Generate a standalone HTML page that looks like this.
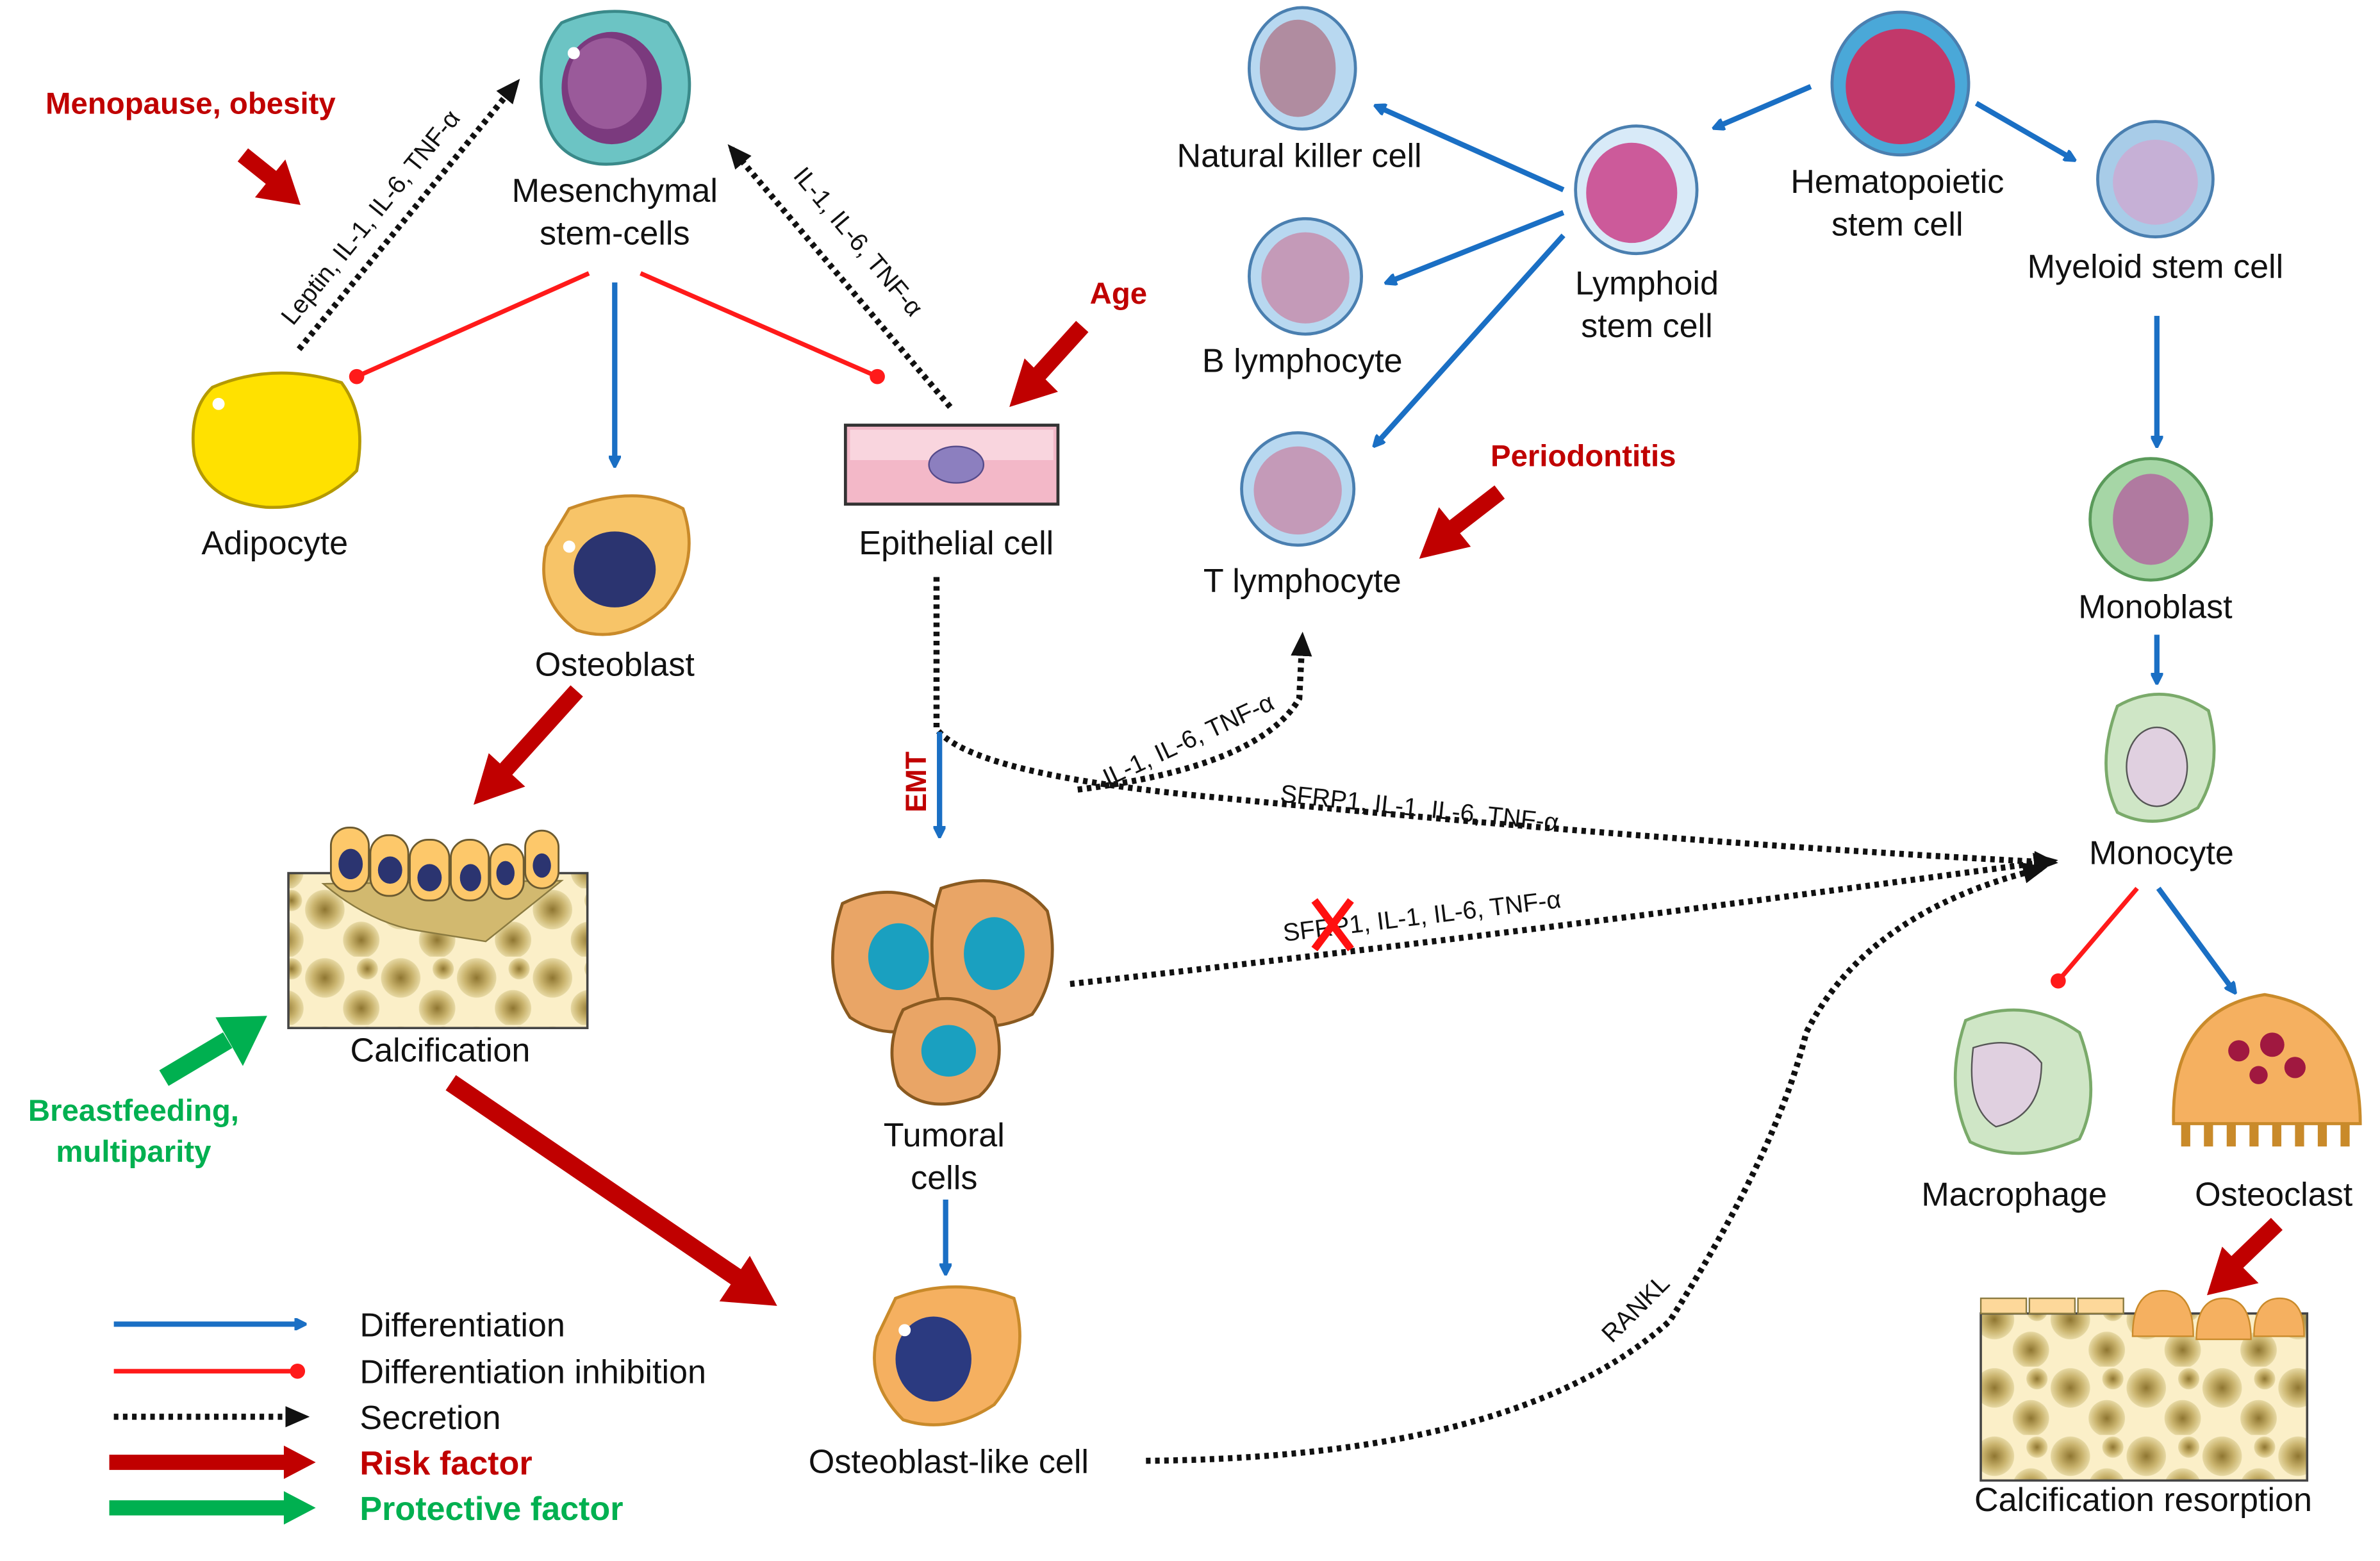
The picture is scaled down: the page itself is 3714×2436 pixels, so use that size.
<!DOCTYPE html>
<html><head><meta charset="utf-8">
<style>
html,body{margin:0;padding:0;background:#fff;}
svg{display:block;}
text{font-family:"Liberation Sans",Arial,sans-serif;}
.lb{font-size:22px;fill:#111;text-anchor:middle;}
.sm{font-size:16.5px;fill:#111;}
.red{fill:#c00000;font-weight:bold;font-size:20px;}
.grn{fill:#00b050;font-weight:bold;font-size:20px;}
.dot{stroke:#111;stroke-width:4;stroke-dasharray:3 3;fill:none;}
.blu{stroke:#1a6fc4;stroke-width:3.5;fill:none;}
.rl{stroke:#ff1a1a;stroke-width:3;fill:none;}
</style></head>
<body>
<svg width="3714" height="2436" viewBox="0 0 1568 1028" preserveAspectRatio="none" xmlns="http://www.w3.org/2000/svg">
<defs>
<marker id="ab" markerWidth="8" markerHeight="8" refX="6" refY="4" orient="auto" markerUnits="userSpaceOnUse"><path d="M0,0 L8,4 L0,8 Z" fill="#1a6fc4" transform="scale(1.6) translate(-2,-1.5)"/></marker>
<marker id="ak" markerWidth="16" markerHeight="14" refX="12" refY="7" orient="auto" markerUnits="userSpaceOnUse"><path d="M0,0 L16,7 L0,14 Z" fill="#111"/></marker>
<marker id="ar" markerWidth="14" markerHeight="14" refX="7" refY="7" markerUnits="userSpaceOnUse"><circle cx="7" cy="7" r="5" fill="#ff1a1a"/></marker>
<radialGradient id="bone" cx="50%" cy="50%" r="50%"><stop offset="0" stop-color="#8f7631"/><stop offset="0.6" stop-color="#c9b36d"/><stop offset="1" stop-color="#e7d9a4"/></radialGradient>
<pattern id="bp" width="50" height="45" patternUnits="userSpaceOnUse">
<rect width="50" height="45" fill="#fbefc8"/>
<circle cx="14" cy="14" r="13" fill="url(#bone)"/><circle cx="38" cy="34" r="12" fill="url(#bone)"/><circle cx="42" cy="8" r="7" fill="url(#bone)"/>
</pattern>
</defs>

<text x="30" y="75" class="red">Menopause,  obesity</text>
<line x1="160" y1="102" x2="180" y2="118" stroke="#c00000" stroke-width="11"/>
<path d="M168,130 L198,135 L188,105 Z" fill="#c00000"/>

<path d="M370,15 Q405,0 440,15 Q462,45 450,80 Q430,110 395,108 Q362,104 358,70 Q352,35 370,15 Z" fill="#6cc4c4" stroke="#3a8a8a" stroke-width="2"/>
<ellipse cx="403" cy="58" rx="33" ry="37" fill="#7b3a7e"/>
<ellipse cx="400" cy="55" rx="26" ry="30" fill="#9a5a9a"/>
<circle cx="378" cy="35" r="4" fill="#fff"/>
<text x="405" y="133" class="lb">Mesenchymal</text>
<text x="405" y="161" class="lb">stem-cells</text>

<line x1="197" y1="230" x2="340" y2="55" class="dot" marker-end="url(#ak)"/>
<text class="sm" transform="translate(193,215) rotate(-51)">Leptin, IL-1, IL-6, TNF-α</text>
<line x1="626" y1="268" x2="482" y2="98" class="dot" marker-end="url(#ak)"/>
<text class="sm" transform="translate(522,116) rotate(50)">IL-1, IL-6, TNF-α</text>

<line x1="388" y1="180" x2="235" y2="248" class="rl" marker-end="url(#ar)"/>
<line x1="422" y1="180" x2="578" y2="248" class="rl" marker-end="url(#ar)"/>
<line x1="405" y1="186" x2="405" y2="306" class="blu" marker-end="url(#ab)"/>

<path d="M140,255 Q180,238 225,252 Q242,275 235,310 Q210,336 175,334 Q135,330 128,300 Q124,270 140,255 Z" fill="#ffe100" stroke="#b59a00" stroke-width="2"/>
<circle cx="144" cy="266" r="4" fill="#fff"/>
<text x="181" y="365" class="lb">Adipocyte</text>

<path d="M375,335 Q420,318 450,335 Q462,370 438,400 Q410,425 380,415 Q352,395 360,360 Z" fill="#f7c468" stroke="#c98a2a" stroke-width="2"/>
<ellipse cx="405" cy="375" rx="27" ry="25" fill="#2b3470"/>
<circle cx="375" cy="360" r="4" fill="#fff"/>
<text x="405" y="445" class="lb">Osteoblast</text>

<rect x="557" y="280" width="140" height="52" fill="#f3b8c8" stroke="#333" stroke-width="2"/>
<rect x="560" y="283" width="134" height="20" fill="#f9d5de"/>
<ellipse cx="630" cy="306" rx="18" ry="12" fill="#8c7fbf" stroke="#554a8a"/>
<text x="630" y="365" class="lb">Epithelial cell</text>
<text x="718" y="200" class="red">Age</text>
<line x1="713" y1="215" x2="684" y2="247" stroke="#c00000" stroke-width="11"/>
<path d="M665,268 L697,258 L675,236 Z" fill="#c00000"/>

<line x1="380" y1="455" x2="333" y2="507" stroke="#c00000" stroke-width="11"/>
<path d="M312,530 L346,518 L322,496 Z" fill="#c00000"/>

<rect x="190" y="575" width="197" height="102" fill="url(#bp)" stroke="#444" stroke-width="1.5"/>
<path d="M213,582 Q240,605 270,612 L320,620 Q345,600 370,580 Z" fill="#d2b96f" stroke="#8a7a40"/>
<g fill="#fdc86a" stroke="#6b5a30" stroke-width="1.2">
<rect x="218" y="545" width="25" height="42" rx="12"/>
<rect x="244" y="550" width="25" height="40" rx="12"/>
<rect x="270" y="553" width="26" height="40" rx="12"/>
<rect x="297" y="553" width="25" height="40" rx="12"/>
<rect x="323" y="556" width="22" height="36" rx="11"/>
<rect x="346" y="547" width="22" height="38" rx="11"/>
</g>
<g fill="#2b3470">
<ellipse cx="231" cy="569" rx="8" ry="10"/><ellipse cx="257" cy="573" rx="8" ry="9"/><ellipse cx="283" cy="578" rx="8" ry="9"/><ellipse cx="310" cy="578" rx="7" ry="9"/><ellipse cx="333" cy="575" rx="6" ry="8"/><ellipse cx="357" cy="570" rx="6" ry="8"/>
</g>
<text x="290" y="699" class="lb">Calcification</text>

<line x1="108" y1="710" x2="150" y2="685" stroke="#00b050" stroke-width="12"/>
<path d="M176,669 L142,670 L160,702 Z" fill="#00b050"/>
<text x="88" y="738" class="grn" text-anchor="middle">Breastfeeding,</text>
<text x="88" y="765" class="grn" text-anchor="middle">multiparity</text>

<line x1="297" y1="713" x2="488" y2="843" stroke="#c00000" stroke-width="12"/>
<path d="M512,860 L474,857 L494,827 Z" fill="#c00000"/>

<line x1="75" y1="872" x2="200" y2="872" class="blu" marker-end="url(#ab)"/>
<line x1="75" y1="903" x2="196" y2="903" class="rl" marker-end="url(#ar)"/>
<line x1="75" y1="933" x2="200" y2="933" class="dot" marker-end="url(#ak)"/>
<line x1="72" y1="963" x2="190" y2="963" stroke="#c00000" stroke-width="10"/>
<path d="M187,952 L208,963 L187,974 Z" fill="#c00000"/>
<line x1="72" y1="993" x2="190" y2="993" stroke="#00b050" stroke-width="10"/>
<path d="M187,982 L208,993 L187,1004 Z" fill="#00b050"/>
<text x="237" y="880" class="lb" style="text-anchor:start">Differentiation</text>
<text x="237" y="911" class="lb" style="text-anchor:start">Differentiation inhibition</text>
<text x="237" y="941" class="lb" style="text-anchor:start">Secretion</text>
<text x="237" y="971" class="red" style="font-size:22px">Risk factor</text>
<text x="237" y="1001" class="grn" style="font-size:22px">Protective factor</text>

<path d="M617,380 L617,480 Q640,510 800,525 Q1100,555 1352,568" class="dot" marker-end="url(#ak)"/>
<line x1="619" y1="482" x2="619" y2="550" class="blu" marker-end="url(#ab)"/>
<text transform="translate(610,535) rotate(-90)" class="red" style="font-size:19px">EMT</text>
<path d="M710,520 Q830,505 856,460 L858,420" class="dot" marker-end="url(#ak)"/>
<text class="sm" transform="translate(730,518) rotate(-25)">IL-1, IL-6, TNF-α</text>
<text class="sm" transform="translate(843,528) rotate(6)">SFRP1, IL-1, IL-6, TNF-α</text>

<g stroke="#8a5a20" stroke-width="2" fill="#e9a566">
<path d="M555,595 Q590,578 620,600 Q640,630 625,668 Q590,690 560,670 Q540,640 555,595 Z"/>
<path d="M620,585 Q665,570 690,600 Q700,640 680,668 Q645,685 620,665 Q608,620 620,585 Z"/>
<path d="M595,665 Q630,648 655,670 Q665,705 645,722 Q610,735 592,715 Q582,690 595,665 Z"/>
</g>
<g fill="#1aa0c0"><ellipse cx="592" cy="630" rx="20" ry="22"/><ellipse cx="655" cy="628" rx="20" ry="24"/><ellipse cx="625" cy="692" rx="18" ry="17"/></g>
<text x="622" y="755" class="lb">Tumoral</text>
<text x="622" y="783" class="lb">cells</text>
<path d="M705,648 Q1000,615 1352,567" class="dot" marker-end="url(#ak)"/>
<text class="sm" transform="translate(846,620) rotate(-7)">SFRP1, IL-1, IL-6, TNF-α</text>
<g stroke="#ff1010" stroke-width="5"><line x1="866" y1="593" x2="890" y2="625"/><line x1="890" y1="593" x2="866" y2="625"/></g>
<line x1="623" y1="790" x2="623" y2="838" class="blu" marker-end="url(#ab)"/>

<path d="M590,855 Q630,840 668,855 Q680,895 655,925 Q625,945 595,935 Q570,910 578,880 Z" fill="#f5b060" stroke="#c98a2a" stroke-width="2"/>
<ellipse cx="615" cy="895" rx="25" ry="28" fill="#2b3a80"/>
<circle cx="596" cy="876" r="4" fill="#fff"/>
<text x="625" y="970" class="lb">Osteoblast-like cell</text>
<path d="M755,962 Q1000,960 1100,870 Q1170,760 1190,680 Q1230,600 1345,572" class="dot" marker-end="url(#ak)"/>
<text class="sm" transform="translate(1062,885) rotate(-45)">RANKL</text>

<g stroke="#4a7fb0" stroke-width="2">
<ellipse cx="858" cy="45" rx="35" ry="40" fill="#b8d8f0"/>
<ellipse cx="860" cy="182" rx="37" ry="38" fill="#b8d8f0"/>
<ellipse cx="855" cy="322" rx="37" ry="37" fill="#b8d8f0"/>
<ellipse cx="1078" cy="125" rx="40" ry="42" fill="#d8eaf8"/>
<ellipse cx="1252" cy="55" rx="45" ry="47" fill="#4aa8d8"/>
<ellipse cx="1420" cy="118" rx="38" ry="38" fill="#a8cce8"/>
</g>
<ellipse cx="855" cy="45" rx="25" ry="32" fill="#b08ca0"/>
<ellipse cx="860" cy="183" rx="29" ry="30" fill="#c49ab8"/>
<ellipse cx="855" cy="323" rx="29" ry="29" fill="#c49ab8"/>
<ellipse cx="1075" cy="127" rx="30" ry="33" fill="#cc5a9a"/>
<ellipse cx="1252" cy="57" rx="36" ry="38" fill="#c2386a"/>
<ellipse cx="1420" cy="120" rx="28" ry="28" fill="#c6b0d6"/>
<text x="856" y="110" class="lb">Natural killer cell</text>
<text x="858" y="245" class="lb">B lymphocyte</text>
<text x="858" y="390" class="lb">T lymphocyte</text>
<text x="1085" y="194" class="lb">Lymphoid</text>
<text x="1085" y="222" class="lb">stem cell</text>
<text x="1250" y="127" class="lb">Hematopoietic</text>
<text x="1250" y="155" class="lb">stem cell</text>
<text x="1420" y="183" class="lb">Myeloid stem cell</text>
<line x1="1030" y1="125" x2="907" y2="70" class="blu" marker-end="url(#ab)"/>
<line x1="1030" y1="140" x2="914" y2="186" class="blu" marker-end="url(#ab)"/>
<line x1="1030" y1="155" x2="906" y2="293" class="blu" marker-end="url(#ab)"/>
<line x1="1193" y1="57" x2="1130" y2="84" class="blu" marker-end="url(#ab)"/>
<line x1="1302" y1="68" x2="1366" y2="105" class="blu" marker-end="url(#ab)"/>
<line x1="1421" y1="208" x2="1421" y2="293" class="blu" marker-end="url(#ab)"/>
<text x="982" y="307" class="red">Periodontitis</text>
<line x1="988" y1="324" x2="957" y2="348" stroke="#c00000" stroke-width="11"/>
<path d="M935,368 L969,360 L948,334 Z" fill="#c00000"/>

<ellipse cx="1417" cy="342" rx="40" ry="40" fill="#a6d6a6" stroke="#5a9a5a" stroke-width="2"/>
<ellipse cx="1417" cy="342" rx="25" ry="30" fill="#b07aa0"/>
<text x="1420" y="407" class="lb">Monoblast</text>
<line x1="1421" y1="418" x2="1421" y2="449" class="blu" marker-end="url(#ab)"/>
<path d="M1395,465 Q1425,448 1455,468 Q1465,505 1448,532 Q1420,548 1395,535 Q1380,505 1395,465 Z" fill="#cfe6c6" stroke="#7aaa6a" stroke-width="2"/>
<ellipse cx="1421" cy="505" rx="20" ry="26" fill="#e0d0e0" stroke="#555"/>
<text x="1424" y="569" class="lb">Monocyte</text>
<line x1="1408" y1="585" x2="1356" y2="646" class="rl" marker-end="url(#ar)"/>
<line x1="1422" y1="585" x2="1472" y2="653" class="blu" marker-end="url(#ab)"/>

<path d="M1295,672 Q1335,655 1370,680 Q1385,720 1370,750 Q1330,768 1298,752 Q1280,715 1295,672 Z" fill="#cfe6c6" stroke="#7aaa6a" stroke-width="2"/>
<path d="M1300,690 Q1330,680 1345,700 Q1345,735 1315,742 Q1295,730 1300,690 Z" fill="#e0d0e0" stroke="#555"/>
<text x="1327" y="794" class="lb">Macrophage</text>

<path d="M1432,740 Q1430,665 1492,655 Q1555,665 1555,740 Z" fill="#f5b060" stroke="#c98a2a" stroke-width="2"/>
<path d="M1440,740 L1440,755 M1455,740 L1455,755 M1470,740 L1470,755 M1485,740 L1485,755 M1500,740 L1500,755 M1515,740 L1515,755 M1530,740 L1530,755 M1545,740 L1545,755" stroke="#c98a2a" stroke-width="6"/>
<g fill="#a01840"><circle cx="1475" cy="692" r="7"/><circle cx="1497" cy="688" r="8"/><circle cx="1512" cy="703" r="7"/><circle cx="1488" cy="708" r="6"/></g>
<text x="1498" y="794" class="lb">Osteoclast</text>
<line x1="1500" y1="806" x2="1472" y2="833" stroke="#c00000" stroke-width="11"/>
<path d="M1454,853 L1488,845 L1464,821 Z" fill="#c00000"/>

<rect x="1305" y="865" width="215" height="110" fill="url(#bp)" stroke="#444" stroke-width="1.5"/>
<g fill="#fdd89a" stroke="#8a7a40"><rect x="1305" y="855" width="30" height="10"/><rect x="1337" y="855" width="30" height="10"/><rect x="1369" y="855" width="30" height="10"/></g>
<g fill="#f5b060" stroke="#c98a2a"><path d="M1405,880 Q1405,850 1425,850 Q1445,850 1445,880 Z"/><path d="M1447,882 Q1447,855 1465,855 Q1483,855 1483,882 Z"/><path d="M1485,880 Q1485,855 1502,855 Q1518,855 1518,880 Z"/></g>
<text x="1412" y="995" class="lb">Calcification resorption</text>
</svg>
</body></html>
